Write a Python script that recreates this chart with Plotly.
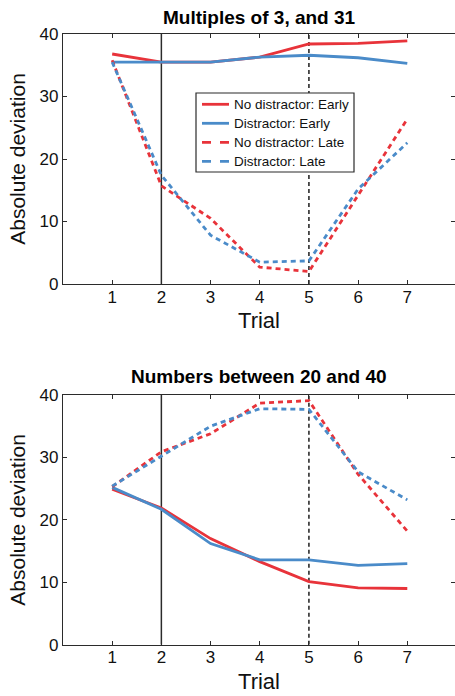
import plotly.graph_objects as go

trials = [1, 2, 3, 4, 5, 6, 7]
x_ticks = [1, 2, 3, 4, 5, 6, 7]
y_ticks = [0, 10, 20, 30, 40]

titles = ["Multiples of 3, and 31", "Numbers between 20 and 40"]
series_names = ["No distractor: Early", "Distractor: Early",
                "No distractor: Late", "Distractor: Late"]

# Panel 1: Multiples of 3, and 31
p1_nodist_early = [36.8, 35.5, 35.5, 36.3, 38.4, 38.5, 38.9]
p1_dist_early = [35.5, 35.5, 35.5, 36.3, 36.6, 36.2, 35.3]
p1_nodist_late = [35.8, 15.7, 10.5, 2.7, 2.0, 14.3, 26.4]
p1_dist_late = [35.5, 17.4, 7.8, 3.5, 3.7, 15.2, 22.6]

# Panel 2: Numbers between 20 and 40
p2_nodist_early = [24.9, 21.9, 17.0, 13.3, 10.1, 9.1, 9.0]
p2_dist_early = [25.2, 21.7, 16.2, 13.6, 13.6, 12.7, 13.0]
p2_nodist_late = [25.3, 30.9, 33.8, 38.7, 39.1, 27.3, 18.2]
p2_dist_late = [25.4, 30.2, 35.0, 37.8, 37.7, 27.7, 23.2]

vline_solid_x = 2
vline_dashed_x = 5

RED = "#e8333a"
BLUE = "#4a8bc9"
AX = "#2b2b2b"
FONT = "Liberation Sans, Arial, sans-serif"
W, H = 455, 696

fig = go.Figure()

panels = [
    (p1_nodist_early, p1_dist_early, p1_nodist_late, p1_dist_late),
    (p2_nodist_early, p2_dist_early, p2_nodist_late, p2_dist_late),
]
DASH = "5px,4px"
styles = [(RED, "solid"), (BLUE, "solid"), (RED, DASH), (BLUE, DASH)]

for pi, data in enumerate(panels):
    xa = "x" if pi == 0 else "x2"
    ya = "y" if pi == 0 else "y2"
    fig.add_trace(go.Scatter(x=[vline_solid_x, vline_solid_x], y=[0, 40], mode="lines",
                             line=dict(color=AX, width=1.5), xaxis=xa, yaxis=ya,
                             showlegend=False, hoverinfo="skip"))
    fig.add_trace(go.Scatter(x=[vline_dashed_x, vline_dashed_x], y=[0, 40], mode="lines",
                             line=dict(color=AX, width=1.6, dash="4px,3px"), xaxis=xa, yaxis=ya,
                             showlegend=False, hoverinfo="skip"))
    for si, (vals, (col, dash)) in enumerate(zip(data, styles)):
        fig.add_trace(go.Scatter(x=trials, y=vals, mode="lines", name=series_names[si],
                                 line=dict(color=col, width=2.8, dash=dash),
                                 xaxis=xa, yaxis=ya, showlegend=False))

x_common = dict(range=[0, 7.97], tickvals=x_ticks, ticks="inside", ticklen=4,
                tickcolor=AX, showline=True, linecolor=AX, linewidth=1.2, mirror="ticks",
                showgrid=False, zeroline=False, automargin=False, ticklabelstandoff=-3,
                tickfont=dict(family=FONT, size=17, color="#111"),
                title=dict(text="Trial", font=dict(family=FONT, size=22, color="#111"), standoff=7))
y_common = dict(range=[0, 40], tickvals=y_ticks, ticks="inside", ticklen=4,
                tickcolor=AX, showline=True, linecolor=AX, linewidth=1.2, mirror="ticks",
                showgrid=False, zeroline=False, automargin=False,
                tickfont=dict(family=FONT, size=17, color="#111"),
                title=dict(text="Absolute deviation", font=dict(family=FONT, size=21, color="#111"),
                           standoff=8))

# Manual legend (box, line samples, labels) in paper coordinates
shapes = []
annotations = []
lx0, lx1, ly0, ly1 = 196, 354, 93, 172
shapes.append(dict(type="rect", xref="paper", yref="paper",
                   x0=lx0 / W, x1=lx1 / W, y0=1 - ly1 / H, y1=1 - ly0 / H,
                   fillcolor="white", line=dict(color=AX, width=1.2), layer="above"))
row_y = [104.3, 123.3, 142.3, 161.3]
for name, (col, dash), ry in zip(series_names, styles, row_y):
    shapes.append(dict(type="line", xref="paper", yref="paper",
                       x0=202 / W, x1=229 / W, y0=1 - ry / H, y1=1 - ry / H,
                       line=dict(color=col, width=2.8, dash=("dash" if dash != "solid" else "solid")),
                       layer="above"))
    annotations.append(dict(text=name, x=232 / W, y=1 - ry / H, xref="paper", yref="paper",
                            showarrow=False, xanchor="left", yanchor="middle",
                            font=dict(family=FONT, size=13.5, color="#111")))

annotations.append(dict(text="<b>" + titles[0] + "</b>", x=(63 + 455) / 2 / W, y=1 - 17 / H,
                        xref="paper", yref="paper", showarrow=False,
                        font=dict(family=FONT, size=19, color="#000"),
                        xanchor="center", yanchor="middle"))
annotations.append(dict(text="<b>" + titles[1] + "</b>", x=(63 + 455) / 2 / W, y=1 - 376 / H,
                        xref="paper", yref="paper", showarrow=False,
                        font=dict(family=FONT, size=19, color="#000"),
                        xanchor="center", yanchor="middle"))

fig.update_layout(
    width=W, height=H,
    margin=dict(l=0, r=0, t=0, b=0, autoexpand=False),
    paper_bgcolor="white", plot_bgcolor="white",
    xaxis=dict(domain=[63 / W, 1], anchor="y", **x_common),
    yaxis=dict(domain=[1 - 284 / H, 1 - 34 / H], anchor="x", **y_common),
    xaxis2=dict(domain=[63 / W, 1], anchor="y2", **x_common),
    yaxis2=dict(domain=[1 - 644.7 / H, 1 - 395 / H], anchor="x2", **y_common),
    showlegend=False,
    shapes=shapes,
    annotations=annotations,
)

fig.write_html("out.html")
